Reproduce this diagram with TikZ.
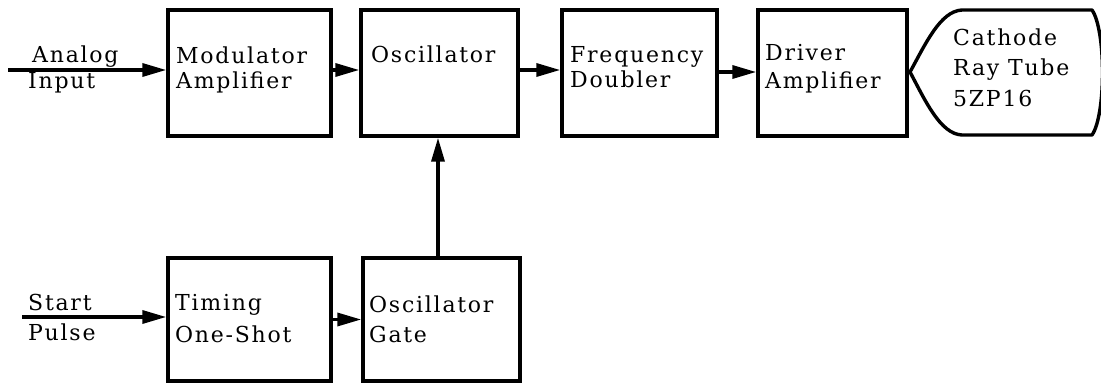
\documentclass[tikz,border=0pt]{standalone}
\usepackage{fontspec}
\setmainfont{DejaVu Serif}[LetterSpace=8]
\usetikzlibrary{arrows.meta}
\begin{document}
\begin{tikzpicture}[x=1pt,y=-1pt,
  blk/.style={draw,line width=3.4pt,rectangle,inner sep=0pt},
  lbl/.style={anchor=base west,inner sep=0pt,font=\fontsize{22}{27}\selectfont},
  arr/.style={line width=3.4pt,-{Triangle[length=24pt,width=13pt]}}]
  % canvas
  \useasboundingbox[fill=white] (0,0) rectangle (1101,384);

  % upper chain
  \node[blk,minimum width=163pt,minimum height=126pt] (mod)  at (249.5,73) {};
  \node[blk,minimum width=157pt,minimum height=126pt] (osc)  at (439.5,73) {};
  \node[blk,minimum width=155pt,minimum height=126pt] (freq) at (639.5,73) {};
  \node[blk,minimum width=149pt,minimum height=126pt] (drv)  at (832.5,73) {};

  % lower chain
  \node[blk,minimum width=163pt,minimum height=123pt] (tim)  at (249.5,319.5) {};
  \node[blk,minimum width=157pt,minimum height=123pt] (gate) at (441.5,319.5) {};

  % cathode ray tube outline
  \coordinate (crt) at (910,72);
  \draw[line width=3.4pt,line join=round]
    (crt) .. controls (925,45) and (940,11) .. (962,10)
    -- (1092,10) .. controls (1106,30) and (1106,115) .. (1092,135)
    -- (962,135) .. controls (940,134) and (925,100) .. (crt) -- cycle;

  % block labels
  \node[lbl] at (176,63) {Modulator};
  \node[lbl] at (176,88) {Amplifier};
  \node[lbl] at (371,62) {Oscillator};
  \node[lbl] at (570,62) {Frequency};
  \node[lbl] at (570,87) {Doubler};
  \node[lbl] at (765,60) {Driver};
  \node[lbl] at (765,88) {Amplifier};
  \node[lbl] at (953,45) {Cathode};
  \node[lbl] at (953,75) {Ray Tube};
  \node[lbl] at (953,106) {5ZP16};
  \node[lbl] at (175,310) {Timing};
  \node[lbl] at (175,342) {One-Shot};
  \node[lbl] at (369,312) {Oscillator};
  \node[lbl] at (369,342) {Gate};

  % input labels
  \node[lbl] at (32,62) {Analog};
  \node[lbl] at (28,88) {Input};
  \node[lbl] at (28,310) {Start};
  \node[lbl] at (28,340) {Pulse};

  % signal flow
  \coordinate (ain) at (8,70);
  \coordinate (spin) at (22,317);
  \draw[arr] (ain) -- (ain -| mod.west);
  \draw[arr] ([yshift=3pt]mod.east) -- ([yshift=3pt]osc.west);
  \draw[arr] ([yshift=3pt]osc.east) -- ([yshift=3pt]freq.west);
  \draw[arr] ([yshift=1pt]freq.east) -- ([yshift=1pt]drv.west);
  \draw[arr] (spin) -- (spin -| tim.west);
  \draw[arr] (tim.east) -- (gate.west);
  \draw[arr] ([xshift=-3.5pt]gate.north) -- ([xshift=-3.5pt]gate.north |- osc.south);
\end{tikzpicture}
\end{document}
